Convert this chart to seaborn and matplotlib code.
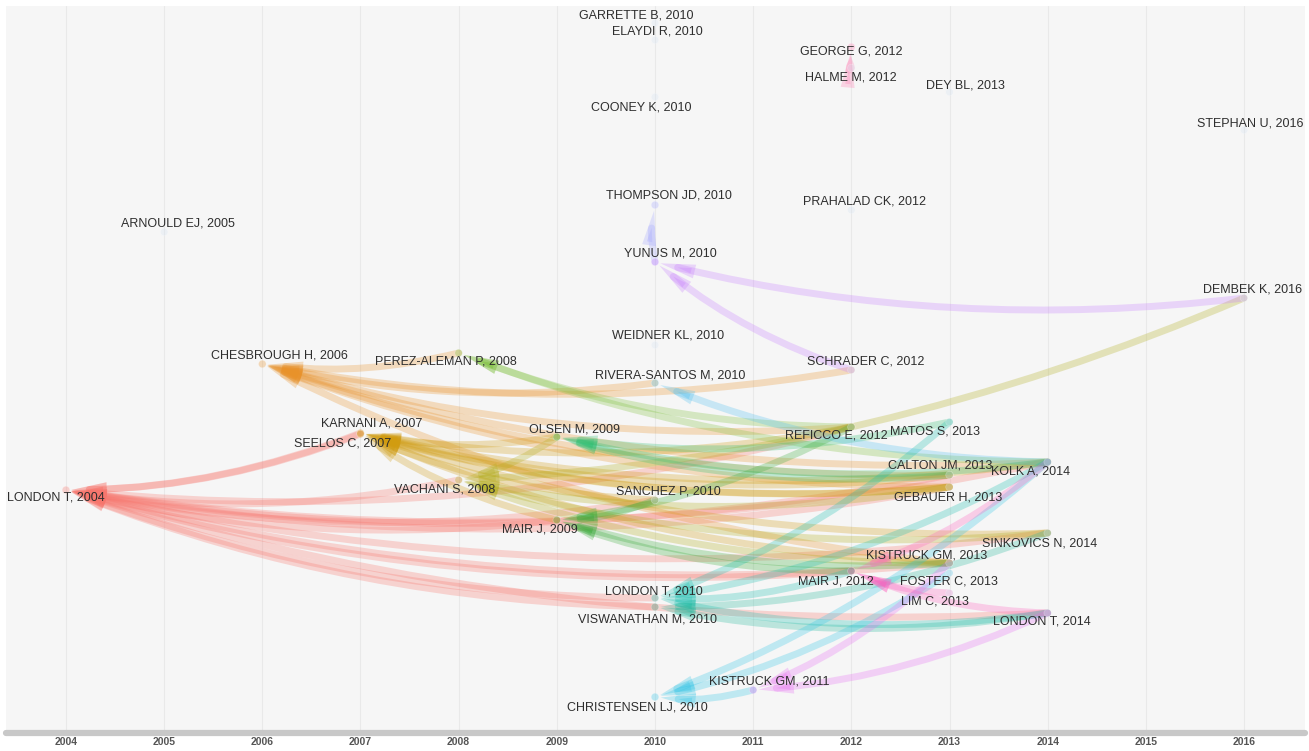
import pandas as pd
import matplotlib
matplotlib.use("Agg")
import matplotlib.pyplot as plt
import seaborn as sns
from matplotlib.patches import FancyArrowPatch

# Settings
sns.set_style("whitegrid", {"axes.facecolor": "#f6f6f6", "grid.color": "#e9e9e9"})
plt.rcParams["font.family"] = ["Liberation Sans", "DejaVu Sans"]

# Data: nodes of the historical direct citation network
node_names = [
    "GARRETTE B, 2010", "ELAYDI R, 2010", "GEORGE G, 2012", "HALME M, 2012",
    "DEY BL, 2013", "COONEY K, 2010", "STEPHAN U, 2016", "THOMPSON JD, 2010",
    "PRAHALAD CK, 2012", "ARNOULD EJ, 2005", "YUNUS M, 2010", "DEMBEK K, 2016",
    "WEIDNER KL, 2010", "CHESBROUGH H, 2006", "PEREZ-ALEMAN P, 2008",
    "SCHRADER C, 2012", "RIVERA-SANTOS M, 2010", "KARNANI A, 2007",
    "SEELOS C, 2007", "OLSEN M, 2009", "MATOS S, 2013", "REFICCO E, 2012",
    "KOLK A, 2014", "CALTON JM, 2013", "LONDON T, 2004", "VACHANI S, 2008",
    "SANCHEZ P, 2010", "GEBAUER H, 2013", "MAIR J, 2009", "SINKOVICS N, 2014",
    "KISTRUCK GM, 2013", "MAIR J, 2012", "FOSTER C, 2013", "LONDON T, 2010",
    "LIM C, 2013", "VISWANATHAN M, 2010", "LONDON T, 2014", "KISTRUCK GM, 2011",
    "CHRISTENSEN LJ, 2010",
]
node_year = [2010, 2010, 2012, 2012, 2013, 2010, 2016, 2010, 2012, 2005, 2010, 2016,
             2010, 2006, 2008, 2012, 2010, 2007, 2007, 2009, 2013, 2012, 2014, 2013,
             2004, 2008, 2010, 2013, 2009, 2014, 2013, 2012, 2013, 2010, 2013, 2010,
             2014, 2011, 2010]
# vertical layout position of each node (0 = top)
node_pos = [23, 40, 47, 68, 92, 97, 130, 205, 210, 232, 262, 298, 345, 364, 353, 370,
            383, 433, 434, 437, 422, 427, 462, 475, 490, 480, 500, 487, 520, 533, 563,
            571, 573, 598, 593, 607, 613, 690, 697]

# citations: cited (older) -> citing (newer)
edge_from = (
    ["LONDON T, 2004"] * 15
    + ["CHESBROUGH H, 2006"] * 8
    + ["KARNANI A, 2007"] * 6
    + ["SEELOS C, 2007"] * 4
    + ["VACHANI S, 2008"] * 5
    + ["PEREZ-ALEMAN P, 2008"] * 2
    + ["OLSEN M, 2009"] * 3
    + ["MAIR J, 2009"] * 4
    + ["RIVERA-SANTOS M, 2010"]
    + ["LONDON T, 2010"] * 4
    + ["VISWANATHAN M, 2010"] * 2
    + ["CHRISTENSEN LJ, 2010"] * 3
    + ["THOMPSON JD, 2010"]
    + ["YUNUS M, 2010"] * 2
    + ["KISTRUCK GM, 2011"] * 2
    + ["MAIR J, 2012"] * 3
    + ["GEORGE G, 2012"]
)
edge_to = [
    # LONDON T, 2004
    "KARNANI A, 2007", "SEELOS C, 2007", "VACHANI S, 2008", "MAIR J, 2009",
    "SANCHEZ P, 2010", "LONDON T, 2010", "VISWANATHAN M, 2010", "REFICCO E, 2012",
    "MAIR J, 2012", "CALTON JM, 2013", "GEBAUER H, 2013", "KISTRUCK GM, 2013",
    "KOLK A, 2014", "SINKOVICS N, 2014", "LONDON T, 2014",
    # CHESBROUGH H, 2006
    "PEREZ-ALEMAN P, 2008", "RIVERA-SANTOS M, 2010", "SCHRADER C, 2012",
    "REFICCO E, 2012", "CALTON JM, 2013", "GEBAUER H, 2013", "KOLK A, 2014",
    "KISTRUCK GM, 2013",
    # KARNANI A, 2007
    "OLSEN M, 2009", "REFICCO E, 2012", "CALTON JM, 2013", "GEBAUER H, 2013",
    "KOLK A, 2014", "SINKOVICS N, 2014",
    # SEELOS C, 2007
    "MAIR J, 2009", "KISTRUCK GM, 2013", "GEBAUER H, 2013", "SANCHEZ P, 2010",
    # VACHANI S, 2008
    "OLSEN M, 2009", "DEMBEK K, 2016", "KISTRUCK GM, 2013", "SINKOVICS N, 2014",
    "GEBAUER H, 2013",
    # PEREZ-ALEMAN P, 2008
    "KOLK A, 2014", "REFICCO E, 2012",
    # OLSEN M, 2009
    "CALTON JM, 2013", "KOLK A, 2014", "MATOS S, 2013",
    # MAIR J, 2009
    "REFICCO E, 2012", "KISTRUCK GM, 2013", "MAIR J, 2012", "SANCHEZ P, 2010",
    # RIVERA-SANTOS M, 2010
    "KOLK A, 2014",
    # LONDON T, 2010
    "MATOS S, 2013", "KOLK A, 2014", "LONDON T, 2014", "MAIR J, 2012",
    # VISWANATHAN M, 2010
    "LONDON T, 2014", "SINKOVICS N, 2014",
    # CHRISTENSEN LJ, 2010
    "KISTRUCK GM, 2011", "FOSTER C, 2013", "KOLK A, 2014",
    # THOMPSON JD, 2010
    "YUNUS M, 2010",
    # YUNUS M, 2010
    "SCHRADER C, 2012", "DEMBEK K, 2016",
    # KISTRUCK GM, 2011
    "KISTRUCK GM, 2013", "LONDON T, 2014",
    # MAIR J, 2012
    "KOLK A, 2014", "LIM C, 2013", "LONDON T, 2014",
    # GEORGE G, 2012
    "HALME M, 2012",
]

years = list(range(2004, 2017))

# Styles
node_colors = {
    "LONDON T, 2004": "#f8766d", "CHESBROUGH H, 2006": "#e8922a",
    "KARNANI A, 2007": "#d19c10", "SEELOS C, 2007": "#d19c10",
    "VACHANI S, 2008": "#b0ad1a", "PEREZ-ALEMAN P, 2008": "#7cbf3a",
    "OLSEN M, 2009": "#2fbf72", "MAIR J, 2009": "#3aab3a",
    "RIVERA-SANTOS M, 2010": "#4fc0f0", "LONDON T, 2010": "#19bfb0",
    "VISWANATHAN M, 2010": "#22b89c", "CHRISTENSEN LJ, 2010": "#2ec4e6",
    "THOMPSON JD, 2010": "#a3a6ff", "YUNUS M, 2010": "#c77cff",
    "KISTRUCK GM, 2011": "#e76bf3", "MAIR J, 2012": "#ff5fbf",
    "GEORGE G, 2012": "#ff79b0",
}
default_color = "#d6e4f2"

label_offset = {  # label centre relative to node, in pixels (x right, y down)
    "GARRETTE B, 2010": (-19, -8), "ELAYDI R, 2010": (2, -8),
    "GEORGE G, 2012": (0, 4), "HALME M, 2012": (-1, 10),
    "DEY BL, 2013": (16, -7), "COONEY K, 2010": (-14, 10),
    "STEPHAN U, 2016": (6, -6), "THOMPSON JD, 2010": (14, -10),
    "PRAHALAD CK, 2012": (13, -8), "ARNOULD EJ, 2005": (14, -8),
    "YUNUS M, 2010": (15, -9), "DEMBEK K, 2016": (9, -9),
    "WEIDNER KL, 2010": (13, -9), "CHESBROUGH H, 2006": (17, -8),
    "PEREZ-ALEMAN P, 2008": (-13, 8), "SCHRADER C, 2012": (14, -8),
    "RIVERA-SANTOS M, 2010": (15, -8), "KARNANI A, 2007": (11, -10),
    "SEELOS C, 2007": (-18, 9), "OLSEN M, 2009": (18, -7),
    "MATOS S, 2013": (-15, 10), "REFICCO E, 2012": (-15, 9),
    "KOLK A, 2014": (-17, 9), "CALTON JM, 2013": (-9, -9),
    "LONDON T, 2004": (-10, 7), "VACHANI S, 2008": (-14, 10),
    "SANCHEZ P, 2010": (13, -8), "GEBAUER H, 2013": (-1, 10),
    "MAIR J, 2009": (-17, 10), "SINKOVICS N, 2014": (-8, 10),
    "KISTRUCK GM, 2013": (-23, -8), "MAIR J, 2012": (-15, 10),
    "FOSTER C, 2013": (-1, 8), "LONDON T, 2010": (-1, -7),
    "LIM C, 2013": (-15, 8), "VISWANATHAN M, 2010": (-8, 12),
    "LONDON T, 2014": (-6, 9), "KISTRUCK GM, 2011": (16, -8),
    "CHRISTENSEN LJ, 2010": (-18, 10),
}

nodes = pd.DataFrame({"name": node_names, "year": node_year, "pos": node_pos})
nodes["color"] = nodes["name"].map(node_colors).fillna(default_color)
where = nodes.set_index("name")

# Figure
fig = plt.figure(figsize=(13.09, 7.51), dpi=100)
ax = fig.add_axes([6 / 1309, 1 - 733 / 751, 1299 / 1309, 727 / 751])
ax.set_xlim(2003.389, 2016.621)
ax.set_ylim(733, 6)

# edges, coloured by the cited paper, arrow head at the cited paper
for src, dst in zip(edge_from, edge_to):
    s = where.loc[src]
    t = where.loc[dst]
    arr = FancyArrowPatch(
        posA=(t["year"], t["pos"]), posB=(s["year"], s["pos"]),
        connectionstyle="arc3,rad=-0.09",
        arrowstyle="-|>,head_length=1.0,head_width=0.2", mutation_scale=10,
        lw=5, color=s["color"], alpha=0.28, shrinkA=0, shrinkB=4,
        joinstyle="miter", capstyle="round", zorder=2,
    )
    ax.add_patch(arr)

# nodes
sns.scatterplot(data=nodes, x="year", y="pos", hue="name",
                palette=dict(zip(nodes["name"], nodes["color"])),
                s=30, alpha=0.3, edgecolor="white", linewidth=0.5,
                legend=False, ax=ax, zorder=3)

# labels
for _, r in nodes.iterrows():
    dx, dy = label_offset[r["name"]]
    ax.annotate(r["name"], (r["year"], r["pos"]), xytext=(dx, -dy),
                textcoords="offset pixels", ha="center", va="center",
                fontsize=9, color="#2e2e2e", zorder=4)

# axis styling
ax.set_xticks(years)
ax.set_xticklabels([str(y) for y in years], fontsize=7.5, fontweight="bold", color="#555555")
ax.set_yticks([])
ax.set_xlabel("")
ax.set_ylabel("")
ax.grid(axis="y", visible=False)
ax.grid(axis="x", color="#e9e9e9", linewidth=0.8)
ax.tick_params(axis="x", length=0, pad=3)
for side in ["left", "right", "top"]:
    ax.spines[side].set_visible(False)
ax.spines["bottom"].set_color("#c8c8c8")
ax.spines["bottom"].set_linewidth(4.5)
ax.spines["bottom"].set_capstyle("round")

plt.savefig("out.png", dpi=100, facecolor="white")
